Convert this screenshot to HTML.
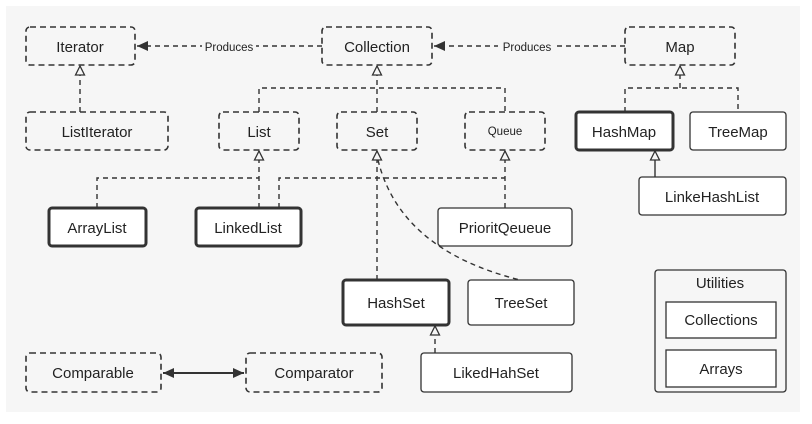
<!DOCTYPE html>
<html><head><style>
body{margin:0;width:812px;height:419px;background:#fff;overflow:hidden}
</style></head><body>
<svg width="812" height="419" xmlns="http://www.w3.org/2000/svg" font-family="Liberation Sans, sans-serif" font-size="15" fill="#222">
<defs>
<marker id="tri" markerWidth="12" markerHeight="12" refX="10" refY="6" orient="auto" markerUnits="userSpaceOnUse"><path d="M10,6 L1,1.5 L1,10.5 Z" fill="#f6f6f6" stroke="#333" stroke-width="1.3"/></marker>
<marker id="fa" markerWidth="12" markerHeight="12" refX="11" refY="6" orient="auto-start-reverse" markerUnits="userSpaceOnUse"><path d="M0,1 L11,6 L0,11 Z" fill="#333"/></marker>
</defs>
<rect x="6" y="6" width="794" height="406" fill="#f6f6f6"/>
<g fill="none" stroke="#333" stroke-width="1.6" stroke-dasharray="6,4">
<rect x="26" y="27" width="109" height="38" rx="4"/>
<rect x="322" y="27" width="110" height="38" rx="4"/>
<rect x="625" y="27" width="110" height="38" rx="4"/>
<rect x="26" y="112" width="142" height="38" rx="4"/>
<rect x="219" y="112" width="80" height="38" rx="4"/>
<rect x="337" y="112" width="80" height="38" rx="4"/>
<rect x="465" y="112" width="80" height="38" rx="4"/>
<rect x="26" y="353" width="135" height="39" rx="4"/>
<rect x="246" y="353" width="136" height="39" rx="4"/>
</g>
<g fill="#fff" stroke="#333" stroke-width="1.3">
<rect x="690" y="112" width="96" height="38" rx="3"/>
<rect x="639" y="177" width="147" height="38" rx="3"/>
<rect x="438" y="208" width="134" height="38" rx="3"/>
<rect x="468" y="280" width="106" height="45" rx="3"/>
<rect x="421" y="353" width="151" height="39" rx="3"/>
<rect x="655" y="270" width="131" height="122" rx="3" fill="#f6f6f6"/>
<rect x="666" y="302" width="110" height="36"/>
<rect x="666" y="350" width="110" height="37"/>
</g>
<g fill="#fff" stroke="#333" stroke-width="3">
<rect x="576" y="112" width="97" height="38" rx="3"/>
<rect x="49" y="208" width="97" height="38" rx="3"/>
<rect x="196" y="208" width="105" height="38" rx="3"/>
<rect x="343" y="280" width="106" height="45" rx="3"/>
</g>
<g fill="none" stroke="#333" stroke-width="1.4" stroke-dasharray="5,4">
<line x1="322" y1="46" x2="137" y2="46" marker-end="url(#fa)"/>
<line x1="625" y1="46" x2="434" y2="46" marker-end="url(#fa)"/>
<line x1="80" y1="112" x2="80" y2="66" marker-end="url(#tri)"/>
<line x1="377" y1="112" x2="377" y2="66" marker-end="url(#tri)"/>
<polyline points="259,112 259,88 505,88 505,112"/>
<line x1="680" y1="88" x2="680" y2="66" marker-end="url(#tri)"/>
<polyline points="625,112 625,88 738,88 738,112"/>
<line x1="259" y1="208" x2="259" y2="151" marker-end="url(#tri)"/>
<polyline points="97,208 97,178 259,178"/>
<polyline points="279,208 279,178 505,178"/>
<line x1="505" y1="208" x2="505" y2="151" marker-end="url(#tri)"/>
<line x1="377" y1="280" x2="377" y2="151" marker-end="url(#tri)"/>
<path d="M378,160 Q400,250 520,280"/>
<line x1="435" y1="353" x2="435" y2="326" marker-end="url(#tri)"/>
</g>
<line x1="655" y1="177" x2="655" y2="151" stroke="#333" stroke-width="1.4" marker-end="url(#tri)"/>
<line x1="163" y1="373" x2="244" y2="373" stroke="#333" stroke-width="2" marker-start="url(#fa)" marker-end="url(#fa)"/>
<rect x="202" y="39" width="54" height="14" fill="#f6f6f6"/>
<rect x="498" y="39" width="58" height="14" fill="#f6f6f6"/>
<g text-anchor="middle">
<text x="229" y="51" font-size="11.5">Produces</text>
<text x="527" y="51" font-size="11.5">Produces</text>
<text x="80" y="52">Iterator</text>
<text x="377" y="52">Collection</text>
<text x="680" y="52">Map</text>
<text x="97" y="137">ListIterator</text>
<text x="259" y="137">List</text>
<text x="377" y="137">Set</text>
<text x="505" y="135" font-size="11.5">Queue</text>
<text x="624" y="137">HashMap</text>
<text x="738" y="137">TreeMap</text>
<text x="712" y="202">LinkeHashList</text>
<text x="97" y="233">ArrayList</text>
<text x="248" y="233">LinkedList</text>
<text x="505" y="233">PrioritQeueue</text>
<text x="396" y="308">HashSet</text>
<text x="521" y="308">TreeSet</text>
<text x="496" y="378">LikedHahSet</text>
<text x="93" y="378">Comparable</text>
<text x="314" y="378">Comparator</text>
<text x="720" y="288">Utilities</text>
<text x="721" y="325">Collections</text>
<text x="721" y="374">Arrays</text>
</g>
</svg>
</body></html>
